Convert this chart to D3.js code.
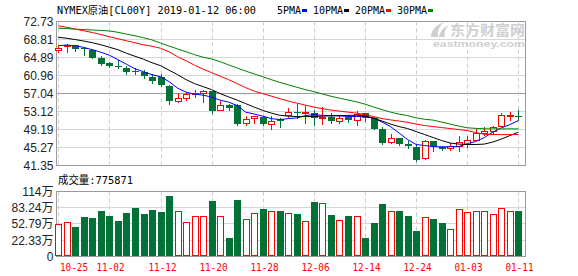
<!DOCTYPE html>
<html>
<head>
<meta charset="utf-8">
<script src="https://cdn.jsdelivr.net/npm/d3@7"></script>
<style>
  html, body { margin: 0; padding: 0; background: #fff; }
  svg { display: block; }
</style>
</head>
<body>
<svg id="chart" width="578" height="276"></svg>
<script>
// ---- data: NYMEX crude (CL00Y), daily, 2018-10-25 .. 2019-01-11 ----
const dates = ["10-25","10-26","10-29","10-30","10-31","11-01","11-02","11-05","11-06","11-07",
  "11-08","11-09","11-12","11-13","11-14","11-15","11-16","11-19","11-20","11-21",
  "11-22","11-23","11-26","11-27","11-28","11-29","11-30","12-03","12-04","12-05",
  "12-06","12-07","12-10","12-11","12-12","12-13","12-14","12-17","12-18","12-19",
  "12-20","12-21","12-24","12-26","12-27","12-28","12-31","01-02","01-03","01-04",
  "01-07","01-08","01-09","01-10","01-11"];

const open = [66.45,67.40,67.55,66.85,66.50,64.77,63.60,62.95,62.66,61.86,
  61.64,60.70,60.70,58.75,55.35,56.00,56.95,57.10,57.50,53.55,
  54.60,54.60,50.65,51.70,52.00,50.30,51.50,52.40,53.05,52.80,
  52.80,51.75,51.93,51.05,51.93,51.20,52.80,51.80,49.33,46.42,
  47.37,46.14,45.41,43.02,46.63,45.41,45.20,45.55,46.14,47.00,
  48.46,48.81,50.05,52.15,52.22];
const high = [67.50,67.85,67.70,67.20,66.70,65.12,63.90,64.25,63.10,62.50,
  62.07,61.29,61.29,58.90,57.10,57.40,57.90,57.70,57.60,55.35,
  54.80,54.75,52.10,52.20,52.20,52.20,51.70,53.90,54.70,54.55,
  53.40,54.20,52.80,52.44,52.40,53.30,52.80,51.93,49.77,48.31,
  47.40,46.63,46.14,47.00,46.63,45.70,46.28,47.72,47.72,49.33,
  49.77,50.05,52.80,52.95,53.38];
const low = [66.00,66.15,66.20,65.45,64.68,63.25,62.80,62.50,61.20,61.20,
  60.33,59.33,58.60,54.68,55.20,55.70,56.20,55.20,52.80,53.40,
  53.50,50.10,50.10,50.60,50.10,49.35,49.80,51.95,51.72,50.63,
  50.20,50.40,50.63,50.63,50.90,50.27,51.00,49.30,46.14,46.29,
  45.90,45.20,42.29,42.80,44.46,44.83,44.83,44.46,45.41,46.85,
  48.09,48.46,49.90,51.35,51.20];
const close = [67.05,67.70,66.75,66.70,64.85,63.53,63.10,62.80,61.73,61.64,
  60.77,59.83,58.80,55.33,56.05,56.90,57.15,57.50,53.30,54.60,
  53.80,50.30,51.55,52.05,50.30,51.00,50.95,53.05,52.80,52.90,
  51.75,51.95,50.95,51.80,51.20,52.60,51.75,49.40,46.30,47.37,
  46.14,45.60,42.65,46.63,45.55,44.98,45.70,46.42,46.85,48.46,
  48.81,49.77,52.44,52.25,51.93];

// volume in 万 (10k contracts)
const volume = [53.4,57.2,46.5,65.3,63.4,76.6,67.2,57.8,72.8,82.2,
  71.0,78.5,74.7,104.8,77.9,57.2,68.5,68.5,95.4,68.5,
  25.8,97.3,62.9,72.8,80.4,77.9,76.6,72.8,71.5,59.1,
  93.5,93.0,69.1,61.0,67.2,68.5,25.8,54.0,89.8,77.9,
  76.6,67.2,38.9,66.6,62.9,54.0,44.0,81.7,76.0,77.9,
  77.9,71.0,83.6,77.9,77.5871];

// moving averages
const ma5 = [67.45,67.60,67.45,67.08,66.58,66.03,65.38,64.40,63.42,62.44,
  61.79,61.14,60.70,59.62,58.20,57.33,56.90,56.68,56.25,55.59,
  55.16,54.40,52.98,52.55,52.11,51.57,51.35,51.57,51.72,52.22,
  52.44,52.27,52.22,52.16,52.05,52.01,52.01,51.68,50.81,49.83,
  48.42,47.00,45.92,45.70,45.48,45.42,45.42,45.48,46.13,46.57,
  47.44,48.63,49.55,50.27,51.14];
const ma10 = [69.29,69.08,68.79,68.47,68.10,67.66,67.12,66.58,65.81,65.16,
  64.51,63.75,63.10,62.12,61.14,60.05,59.18,58.53,57.88,57.01,
  56.29,55.59,54.83,54.07,53.35,52.77,52.29,52.11,52.01,52.01,
  52.01,52.11,52.18,52.22,52.27,52.31,52.11,51.68,51.03,50.37,
  49.83,49.40,48.74,48.09,47.44,46.79,46.24,46.02,45.92,45.92,
  46.02,46.46,47.11,47.87,48.59];
const ma20 = [71.79,71.47,71.08,70.71,70.32,69.88,69.40,68.97,68.53,68.10,
  67.66,67.34,66.90,66.14,65.05,64.18,63.20,62.34,61.57,60.81,
  60.05,59.18,58.31,57.55,57.01,56.46,55.92,55.38,54.94,54.51,
  54.07,53.75,53.42,53.20,52.98,52.77,52.44,52.01,51.57,51.29,
  51.03,50.77,50.37,50.05,49.83,49.61,49.40,49.18,48.96,48.53,
  48.15,48.10,48.08,48.08,48.10];
const ma30 = [71.29,71.19,71.06,70.97,70.88,70.79,70.66,70.38,69.99,69.62,
  69.19,68.71,68.03,67.38,66.75,66.14,65.49,64.94,64.57,63.97,
  63.27,62.60,61.92,61.29,60.70,60.05,59.46,58.92,58.40,57.88,
  57.44,56.94,56.44,56.03,55.62,55.22,54.72,54.11,53.53,52.98,
  52.55,52.22,51.74,51.42,51.24,50.81,50.37,49.94,49.57,49.44,
  49.35,49.33,49.33,49.34,49.33];

const maNames = ["5PMA", "10PMA", "20PMA", "30PMA"];
const maColors = ["#0000ff", "#000000", "#ff0000", "#008000"];
const maSeries = [ma5, ma10, ma20, ma30];

const priceTicks = [72.73, 68.81, 64.89, 60.96, 57.04, 53.12, 49.19, 45.27, 41.35];
const volTicks = [113.69, 83.24, 52.79, 22.33];
const volTickLabels = ["114万", "83.24万", "52.79万", "22.33万"];
const xLabelDates = ["10-25","11-02","11-12","11-20","11-28","12-06","12-14","12-24","01-03","01-11"];

const titleText = "NYMEX原油[CL00Y] 2019-01-12 06:00";
const volText = "成交量:775871";

// ---- layout ----
const UP = "#ff0000", DOWN = "#007236";
const L = 56.5, R = 525.5;
const P = { top: 21.5, bottom: 165.5 };
const V = { top: 191.5, bottom: 256.5 };
const MONO = "'DejaVu Sans Mono','Noto Sans CJK SC',monospace";
const SANS = "'Liberation Sans','Noto Sans CJK SC',Arial,sans-serif";

const svg = d3.select("#chart");

const x = d3.scalePoint().domain(dates).range([58.3, 518.4]);
const cx = d => Math.round(x(d));
const yP = d3.scaleLinear().domain([41.35, 72.73]).range([P.bottom, P.top]);
const volFloor = volTicks[3] - (volTicks[2] - volTicks[3]);
const yV = d3.scaleLinear().domain([volFloor, volTicks[0]]).range([V.bottom, V.top]);

const rows = dates.map((d, i) => ({
  d, o: open[i], h: high[i], l: low[i], c: close[i], v: volume[i],
  up: close[i] >= open[i]
}));

// ---- title + legend ----
svg.append("text")
  .attr("x", 57).attr("y", 13.5)
  .attr("textLength", 199).attr("lengthAdjust", "spacingAndGlyphs")
  .style("font-family", MONO).style("font-size", "10px").attr("fill", "#000")
  .text(titleText);

let lx = 277;
maNames.forEach((name, k) => {
  const w = name.length * 6;
  svg.append("text")
    .attr("x", lx).attr("y", 13.5)
    .attr("textLength", w).attr("lengthAdjust", "spacingAndGlyphs")
    .style("font-family", MONO).style("font-size", "10px").attr("fill", "#000")
    .text(name);
  svg.append("rect")
    .attr("x", Math.round(lx + w + 1)).attr("y", 9).attr("width", 5).attr("height", 3)
    .attr("fill", maColors[k]);
  lx += w + 12;
});

// ---- watermark ----
const wm = svg.append("g").attr("fill", "#cfcfcf");
wm.append("path")
  .attr("d", "M431,37 C431,30 436,25 444,22 C439,27 437,31 438,37 Z M439,37 C440,31 444,27 449,25 C445,29 444,33 445,37 Z");
wm.append("text")
  .attr("x", 450).attr("y", 34.5)
  .attr("textLength", 75).attr("lengthAdjust", "spacingAndGlyphs")
  .style("font-family", "'Noto Sans CJK SC',sans-serif").style("font-size", "14px").style("font-weight", "bold")
  .text("东方财富网");
wm.append("text")
  .attr("x", 433).attr("y", 46.5)
  .attr("textLength", 92).attr("lengthAdjust", "spacingAndGlyphs")
  .style("font-family", SANS).style("font-size", "9.5px").style("font-weight", "bold")
  .text("eastmoney.com");

// ---- price panel grid ----
const gP = svg.append("g");
priceTicks.forEach((t, k) => {
  if (k === 0 || k === priceTicks.length - 1) return;
  gP.append("line")
    .attr("x1", L).attr("x2", R).attr("y1", yP(t)).attr("y2", yP(t))
    .attr("stroke", t === 57.04 ? "#9a9a9a" : "#d6d6d6").attr("stroke-width", 1);
});
// vertical dashed separators (both panels)
xLabelDates.forEach(d => {
  const xx = cx(d) + 0.5;
  [[P.top, P.bottom], [V.top, V.bottom]].forEach(([a, b]) => {
    svg.append("line")
      .attr("x1", xx).attr("x2", xx).attr("y1", a).attr("y2", b)
      .attr("stroke", "#cdcdcd").attr("stroke-dasharray", "4,3");
  });
});
gP.append("rect")
  .attr("x", L).attr("y", P.top).attr("width", R - L).attr("height", P.bottom - P.top)
  .attr("fill", "none").attr("stroke", "#9a9a9a");

// price axis labels
const axP = svg.append("g").attr("transform", `translate(${L},0)`)
  .call(d3.axisLeft(yP).tickValues(priceTicks).tickSize(0).tickPadding(3)
    .tickFormat(d => d.toFixed(2)));
axP.select(".domain").remove();
axP.selectAll("text").style("font-family", SANS).style("font-size", "12px").attr("fill", "#222");

// ---- candles ----
const gC = svg.append("g");
rows.forEach(r => {
  const c = cx(r.d);
  const col = r.up ? UP : DOWN;
  const top = Math.round(yP(Math.max(r.o, r.c)));
  const bot = Math.round(yP(Math.min(r.o, r.c)));
  gC.append("line")
    .attr("x1", c + 0.5).attr("x2", c + 0.5)
    .attr("y1", Math.round(yP(r.h))).attr("y2", Math.round(yP(r.l)) + 1)
    .attr("stroke", col);
  if (r.up) {
    gC.append("rect")
      .attr("x", c - 2.5).attr("y", top + 0.5)
      .attr("width", 6).attr("height", Math.max(bot - top, 1))
      .attr("fill", "#fff").attr("stroke", col);
  } else {
    gC.append("rect")
      .attr("x", c - 3).attr("y", top)
      .attr("width", 7).attr("height", Math.max(bot - top, 1))
      .attr("fill", col);
  }
});

// ---- moving averages ----
maSeries.forEach((s, k) => {
  const line = d3.line().x((v, i) => x(dates[i])).y(v => yP(v));
  svg.append("path").attr("d", line(s))
    .attr("fill", "none").attr("stroke", maColors[k]).attr("stroke-width", 1);
});

// ---- volume panel ----
svg.append("text")
  .attr("x", 58).attr("y", 184)
  .attr("textLength", 75).attr("lengthAdjust", "spacingAndGlyphs")
  .style("font-family", MONO).style("font-size", "11px").attr("fill", "#000")
  .text(volText);

volTicks.slice(1).forEach(t => {
  const yy = Math.floor(yV(t)) + 0.5;
  svg.append("line").attr("x1", L).attr("x2", R).attr("y1", yy).attr("y2", yy)
    .attr("stroke", "#d6d6d6");
});
svg.append("rect")
  .attr("x", L).attr("y", V.top).attr("width", R - L).attr("height", V.bottom - V.top)
  .attr("fill", "none").attr("stroke", "#9a9a9a");

const axV = svg.append("g").attr("transform", `translate(${L},0)`)
  .call(d3.axisLeft(yV).tickValues(volTicks.concat([volFloor])).tickSize(0).tickPadding(3)
    .tickFormat(d => { const k = volTicks.indexOf(d); return k >= 0 ? volTickLabels[k] : "0"; }));
axV.select(".domain").remove();
axV.selectAll("text").style("font-family", SANS).style("font-size", "12px").attr("fill", "#222");

const gV = svg.append("g");
rows.forEach(r => {
  const c = cx(r.d);
  const yy = Math.round(yV(r.v));
  if (r.up) {
    gV.append("rect")
      .attr("x", c - 2.5).attr("y", yy + 0.5)
      .attr("width", 6).attr("height", Math.max(V.bottom - 1 - (yy + 0.5), 1))
      .attr("fill", "#fff").attr("stroke", UP);
  } else {
    gV.append("rect")
      .attr("x", c - 3).attr("y", yy)
      .attr("width", 7).attr("height", V.bottom - 0.5 - yy)
      .attr("fill", DOWN);
  }
});

// ---- date axis ----
const axX = svg.append("g").attr("transform", `translate(0,${V.bottom})`)
  .call(d3.axisBottom(x).tickValues(xLabelDates).tickSize(0).tickPadding(0));
axX.select(".domain").remove();
axX.selectAll(".tick").attr("transform", d => `translate(${cx(d) + 0.5},0)`);
axX.selectAll("text")
  .attr("y", 14).attr("dy", 0)
  .attr("textLength", 28).attr("lengthAdjust", "spacingAndGlyphs")
  .style("font-family", MONO).style("font-size", "11px").attr("fill", UP)
  .attr("text-anchor", "start")
  .attr("x", d => Math.max(-13, 60 - (cx(d) + 0.5)));
</script>
</body>
</html>
